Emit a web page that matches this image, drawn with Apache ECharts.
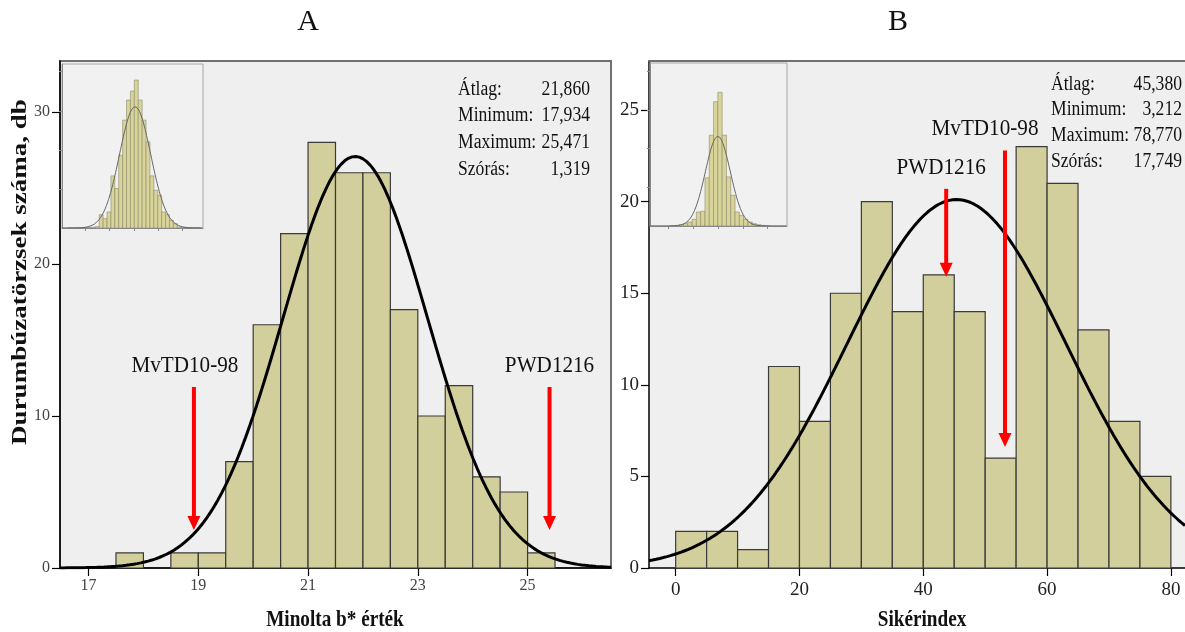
<!DOCTYPE html>
<html><head><meta charset="utf-8">
<script src="https://cdn.jsdelivr.net/npm/echarts@6/dist/echarts.min.js"></script>
<style>html,body{margin:0;padding:0;background:#fff}#c{width:1185px;height:632px}</style>
</head><body><div id="c"></div>
<script>
// ---------- Panel A : Minolta b* érték ----------
const binStartA = [17.5, 18.5, 19.0, 19.5, 20.0, 20.5, 21.0, 21.5, 22.0, 22.5, 23.0, 23.5, 24.0, 24.5, 25.0];
const countsA   = [1, 1, 1, 7, 16, 22, 28, 26, 26, 17, 10, 12, 6, 5, 1];
const binWidthA = 0.5;
const meanA = 21.860, sdA = 1.319;
const statValuesA = ['21,860', '17,934', '25,471', '1,319'];
const ticksAx = [17, 19, 21, 23, 25];
const ticksAy = [0, 10, 20, 30];
const arrowNamesA = ['MvTD10-98', 'PWD1216'];
const arrowXA   = [18.92, 25.40];
const arrowTopA = [11.9, 11.9];
const arrowTipA = [2.5, 2.5];

// ---------- Panel B : Sikérindex ----------
const binStartB = [0, 5, 10, 15, 20, 25, 30, 35, 40, 45, 50, 55, 60, 65, 70, 75];
const countsB   = [2, 2, 1, 11, 8, 15, 20, 14, 16, 14, 6, 23, 21, 13, 8, 5];
const binWidthB = 5;
const meanB = 45.380, sdB = 17.749;
const statValuesB = ['45,380', '3,212', '78,770', '17,749'];
const ticksBx = [0, 20, 40, 60, 80];
const ticksBy = [0, 5, 10, 15, 20, 25];
const arrowNamesB = ['PWD1216', 'MvTD10-98'];
const arrowXB   = [43.7, 53.2];
const arrowTopB = [20.7, 22.8];
const arrowTipB = [15.9, 6.6];

const statLabels = ['Átlag:', 'Minimum:', 'Maximum:', 'Szórás:'];

// ---------- insets (thumbnail histograms, relative counts) ----------
const insetCountsA = [1,0,1,1,0,1,2,4,40,28,48,156,118,218,323,383,410,443,383,323,258,156,113,98,48,40,23,13,3,2,1,1,0,1];
const insetMeanA = 17.2, insetSdA = 4.0;
const insetCountsB = [1,2,4,7,12,20,42,44,144,272,372,400,272,147,92,42,32,20,12,7,4,2,1];
const insetMeanB = 11.0, insetSdB = 2.9;

// ---------- layout (pixels / styling only) ----------
const labelDxA = [-9, 0], labelDxB = [-5, -20];
const FONT = '"Liberation Serif", "Times New Roman", serif';
const BAR_FILL = '#d3cf9c';

function normalCurve(mean, sd, n, bw, x0, x1, steps) {
  const out = [];
  for (let i = 0; i <= steps; i++) {
    const x = x0 + (x1 - x0) * i / steps;
    const y = n * bw / (sd * Math.sqrt(2 * Math.PI)) * Math.exp(-0.5 * Math.pow((x - mean) / sd, 2));
    out.push([x, y]);
  }
  return out;
}
const sum = a => a.reduce((s, v) => s + v, 0);

const barDataA = binStartA.map((s, i) => [s, s + binWidthA, countsA[i]]);
const barDataB = binStartB.map((s, i) => [s, s + binWidthB, countsB[i]]);
const insetBarA = insetCountsA.map((c, i) => [i, i + 1, c]);
const insetBarB = insetCountsB.map((c, i) => [i, i + 1, c]);

function barRenderer(fill, stroke, lw) {
  return function (params, api) {
    const p0 = api.coord([api.value(0), api.value(2)]);
    const p1 = api.coord([api.value(1), 0]);
    return {
      type: 'rect',
      shape: { x: p0[0], y: p0[1], width: p1[0] - p0[0], height: p1[1] - p0[1] },
      style: { fill: fill, stroke: stroke, lineWidth: lw }
    };
  };
}
function arrowRenderer(names, dxs) {
  return function (params, api) {
    const i = params.dataIndex;
    const p0 = api.coord([api.value(0), api.value(1)]);
    const p1 = api.coord([api.value(0), api.value(2)]);
    const headH = 14, headW = 13, shaftW = 4;
    return {
      type: 'group',
      children: [
        { type: 'rect', shape: { x: p0[0] - shaftW / 2, y: p0[1], width: shaftW, height: p1[1] - p0[1] - headH + 1 }, style: { fill: '#ff0000' } },
        { type: 'polygon', shape: { points: [[p1[0] - headW / 2, p1[1] - headH], [p1[0] + headW / 2, p1[1] - headH], [p1[0], p1[1]]] }, style: { fill: '#ff0000' } },
        { type: 'text', x: p0[0] + dxs[i], y: p0[1] - 21, scaleX: 0.92,
          style: { text: names[i], font: '23px ' + FONT, fill: '#111', align: 'center', verticalAlign: 'middle' } }
      ]
    };
  };
}

const mainAxisLine = { show: true, onZero: false, lineStyle: { color: '#000', width: 1.5 } };
const insetAxisLine = { show: true, onZero: false, lineStyle: { color: '#888', width: 1 } };
const hidden = { show: false };

const option = {
  animation: false,
  backgroundColor: '#fff',
  grid: [
    { left: 60, top: 61, width: 551, height: 507, show: true, backgroundColor: '#efefef', borderColor: '#707070', borderWidth: 2 },
    { left: 649, top: 61, width: 536, height: 507, show: true, backgroundColor: '#efefef', borderWidth: 0 },
    { left: 62, top: 64, width: 141, height: 164, show: true, backgroundColor: '#f1f1f1', borderColor: '#a8a8a8', borderWidth: 1, z: 5 },
    { left: 650, top: 63, width: 137, height: 163, show: true, backgroundColor: '#f1f1f1', borderColor: '#a8a8a8', borderWidth: 1, z: 5 }
  ],
  xAxis: [
    { type: 'value', gridIndex: 0, min: 16.48, max: 26.52, splitLine: hidden, axisLine: mainAxisLine,
      axisTick: { customValues: ticksAx, length: 8, lineStyle: { color: '#000', width: 1.2 } },
      axisLabel: { customValues: ticksAx, fontFamily: FONT, fontSize: 16, color: '#444', margin: 10 } },
    { type: 'value', gridIndex: 1, min: -4.31, max: 82.28, splitLine: hidden, axisLine: mainAxisLine,
      axisTick: { customValues: ticksBx, length: 8, lineStyle: { color: '#000', width: 1.2 } },
      axisLabel: { customValues: ticksBx, fontFamily: FONT, fontSize: 19, color: '#222', margin: 13 } },
    { type: 'value', gridIndex: 2, min: -1.54, max: 34.6, splitLine: hidden, z: 6, axisLine: insetAxisLine,
      axisTick: { customValues: [4.4, 10.6, 16.9, 23.1, 29.4], length: 3, lineStyle: { color: '#888' } },
      axisLabel: hidden },
    { type: 'value', gridIndex: 3, min: -4.8, max: 27.1, splitLine: hidden, z: 6, axisLine: insetAxisLine,
      axisTick: { customValues: [-0.6, 5.2, 11, 16.8, 22.6], length: 3, lineStyle: { color: '#888' } },
      axisLabel: hidden },
    // top frame line of panel B
    { type: 'value', gridIndex: 1, position: 'top', min: -4.31, max: 82.28, splitLine: hidden,
      axisLine: { show: true, onZero: false, lineStyle: { color: '#707070', width: 2 } },
      axisTick: hidden, axisLabel: hidden }
  ],
  yAxis: [
    { type: 'value', gridIndex: 0, min: 0, max: 33.35, splitLine: hidden, axisLine: mainAxisLine,
      axisTick: { customValues: ticksAy, length: 8, lineStyle: { color: '#000', width: 1.2 } },
      axisLabel: { customValues: ticksAy, fontFamily: FONT, fontSize: 16, color: '#444', margin: 10 } },
    { type: 'value', gridIndex: 1, min: 0, max: 27.68, splitLine: hidden, axisLine: mainAxisLine,
      axisTick: { customValues: ticksBy, length: 8, lineStyle: { color: '#000', width: 1.2 } },
      axisLabel: { customValues: ticksBy, fontFamily: FONT, fontSize: 19, color: '#222', margin: 10 } },
    { type: 'value', gridIndex: 2, min: 0, max: 491, splitLine: hidden, z: 6, axisLine: insetAxisLine,
      axisTick: { customValues: [117, 234, 351, 468], length: 3, lineStyle: { color: '#888' } },
      axisLabel: hidden },
    { type: 'value', gridIndex: 3, min: 0, max: 488, splitLine: hidden, z: 6, axisLine: insetAxisLine,
      axisTick: { customValues: [116, 232, 348, 464], length: 3, lineStyle: { color: '#888' } },
      axisLabel: hidden }
  ],
  series: [
    { type: 'custom', xAxisIndex: 0, yAxisIndex: 0, data: barDataA, renderItem: barRenderer(BAR_FILL, '#3a3a3a', 1.2), z: 2 },
    { type: 'line', xAxisIndex: 0, yAxisIndex: 0, data: normalCurve(meanA, sdA, sum(countsA), binWidthA, 16.48, 26.52, 300),
      showSymbol: false, lineStyle: { color: '#000', width: 3 }, z: 3, clip: true },
    { type: 'custom', xAxisIndex: 0, yAxisIndex: 0, data: arrowXA.map((x, i) => [x, arrowTopA[i], arrowTipA[i]]),
      renderItem: arrowRenderer(arrowNamesA, labelDxA), z: 4 },

    { type: 'custom', xAxisIndex: 1, yAxisIndex: 1, data: barDataB, renderItem: barRenderer(BAR_FILL, '#3a3a3a', 1.2), z: 2 },
    { type: 'line', xAxisIndex: 1, yAxisIndex: 1, data: normalCurve(meanB, sdB, sum(countsB), binWidthB, -4.31, 82.28, 300),
      showSymbol: false, lineStyle: { color: '#000', width: 3 }, z: 3, clip: true },
    { type: 'custom', xAxisIndex: 1, yAxisIndex: 1, data: arrowXB.map((x, i) => [x, arrowTopB[i], arrowTipB[i]]),
      renderItem: arrowRenderer(arrowNamesB, labelDxB), z: 4 },

    { type: 'custom', xAxisIndex: 2, yAxisIndex: 2, data: insetBarA, renderItem: barRenderer('#d9d59a', '#8d8a68', 0.6), z: 6 },
    { type: 'line', xAxisIndex: 2, yAxisIndex: 2, data: normalCurve(insetMeanA, insetSdA, sum(insetCountsA), 1, -1.54, 34.6, 200),
      showSymbol: false, lineStyle: { color: '#666', width: 1 }, z: 7 },
    { type: 'custom', xAxisIndex: 3, yAxisIndex: 3, data: insetBarB, renderItem: barRenderer('#d9d59a', '#8d8a68', 0.6), z: 6 },
    { type: 'line', xAxisIndex: 3, yAxisIndex: 3, data: normalCurve(insetMeanB, insetSdB, sum(insetCountsB), 1, -4.8, 27.1, 200),
      showSymbol: false, lineStyle: { color: '#666', width: 1 }, z: 7 }
  ],
  graphic: []
};

const g = [];
function txt(x, y, text, size, align, opts) {
  g.push(Object.assign({ type: 'text', x: x, y: y, z: 20, silent: true,
    style: { text: text, font: (opts && opts.bold ? 'bold ' : '') + size + 'px ' + FONT, fill: '#111', align: align, verticalAlign: 'middle' } },
    opts && opts.t ? opts.t : {}));
}
txt(308, 22, 'A', 30, 'center');
txt(898, 22, 'B', 30, 'center');
const baseA = [97, 123, 150, 177], baseB = [92, 117, 143, 169];
statLabels.forEach((s, i) => {
  txt(458, baseA[i] - 7, s, 20, 'left', { t: { scaleX: 0.88 } });
  txt(590, baseA[i] - 7, statValuesA[i], 20, 'right', { t: { scaleX: 0.88 } });
  txt(1051, baseB[i] - 7, s, 20, 'left', { t: { scaleX: 0.88 } });
  txt(1182, baseB[i] - 7, statValuesB[i], 20, 'right', { t: { scaleX: 0.88 } });
});
txt(335, 620, 'Minolta b* érték', 24, 'center', { bold: true, t: { scaleX: 0.8 } });
txt(922, 620, 'Sikérindex', 24, 'center', { bold: true, t: { scaleX: 0.8 } });
txt(20, 272, 'Durumbúzatörzsek száma, db', 27, 'center', { bold: true, t: { rotation: Math.PI / 2, scaleY: 0.8 } });
option.graphic = g;

const chart = echarts.init(document.getElementById('c'), null, { renderer: 'canvas' });
chart.setOption(option);
</script>
</body></html>
